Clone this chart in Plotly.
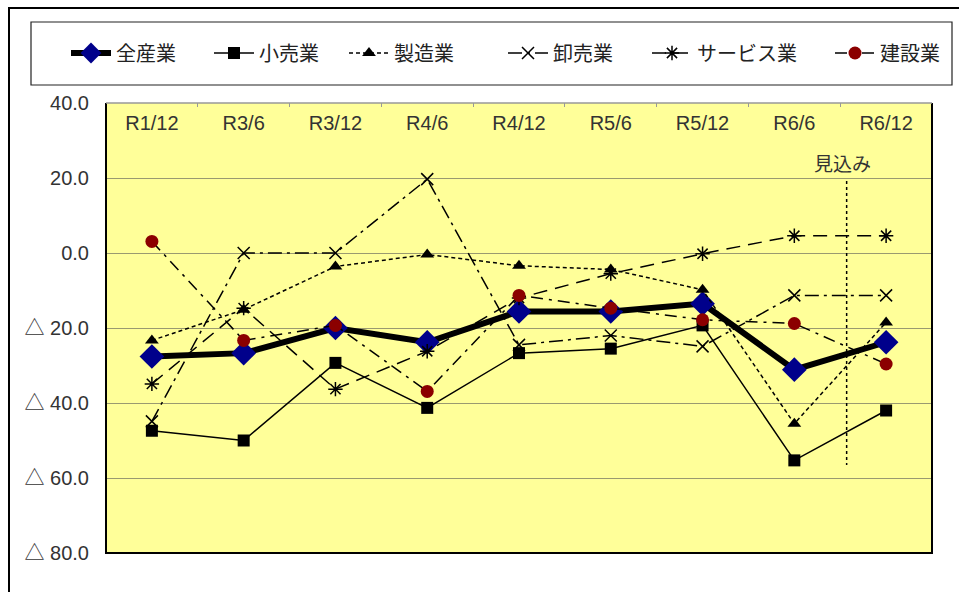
import plotly.graph_objects as go

categories = ["R1/12", "R3/6", "R3/12", "R4/6", "R4/12", "R5/6", "R5/12", "R6/6", "R6/12"]
zensangyo = [-27.6, -26.7, -20.0, -23.8, -15.6, -15.6, -13.5, -31.1, -23.8]
kouri = [-47.4, -50.0, -29.3, -41.3, -26.7, -25.5, -19.3, -55.3, -42.0]
seizou = [-23.3, -15.1, -3.6, -0.4, -3.4, -4.4, -9.8, -45.5, -18.5]
oroshi = [-44.9, 0.0, 0.0, 19.7, -24.5, -22.0, -24.9, -11.3, -11.3]
service = [-34.9, -14.7, -36.3, -26.2, -12.0, -5.5, -0.2, 4.6, 4.6]
kensetsu = [3.1, -23.3, -19.3, -36.9, -11.3, -14.7, -17.8, -18.8, -29.6]

ytickvals = [40, 20, 0, -20, -40, -60, -80]
yticktext = ["40.0", "20.0", "0.0", "△ 20.0", "△ 40.0", "△ 60.0", "△ 80.0"]

FONT = "Liberation Sans, Noto Sans CJK JP, sans-serif"
JFONT = "Noto Sans CJK JP, sans-serif"

W, H = 959, 592
L, R, T, B = 106, 932, 103, 553
pw, ph = R - L, B - T

def px(x):
    return (x - L) / pw

def py(y):
    return (B - y) / ph

# legend text start positions (page px)
leg_text_x = [117, 260, 395, 554, 698, 881]
leg_names = ["legend", "legend2", "legend3", "legend4", "legend5", "legend6"]

fig = go.Figure()
fig.add_trace(go.Scatter(x=categories, y=zensangyo, name="全産業", mode="lines+markers",
                         line=dict(color="black", width=6),
                         marker=dict(symbol="diamond", size=19, color="#00008B")))
fig.add_trace(go.Scatter(x=categories, y=kouri, name="小売業", mode="lines+markers",
                         line=dict(color="black", width=1.5),
                         marker=dict(symbol="square", size=12, color="black")))
fig.add_trace(go.Scatter(x=categories, y=seizou, name="製造業", mode="lines+markers",
                         line=dict(color="black", width=1.5, dash="4px,3px"),
                         marker=dict(symbol="triangle-up", size=12, color="black")))
fig.add_trace(go.Scatter(x=categories, y=oroshi, name="卸売業", mode="lines+markers",
                         line=dict(color="black", width=1.5, dash="14px,5px,3px,5px"),
                         marker=dict(symbol="x-thin-open", size=12, color="black",
                                     line=dict(color="black", width=1.5))))
fig.add_trace(go.Scatter(x=categories, y=service, name="サービス業", mode="lines+markers",
                         line=dict(color="black", width=1.5, dash="14px,8px"),
                         marker=dict(symbol="asterisk-open", size=12, color="black",
                                     line=dict(color="black", width=1.5))))
fig.add_trace(go.Scatter(x=categories, y=kensetsu, name="建設業", mode="lines+markers",
                         line=dict(color="black", width=1.5, dash="12px,6px,3px,6px"),
                         marker=dict(symbol="circle", size=13, color="#8B0000")))

for tr, lg in zip(fig.data, leg_names):
    tr.legend = lg

shapes = [
    dict(type="rect", xref="paper", yref="paper", x0=px(9), x1=px(965), y0=py(600), y1=py(8),
         line=dict(color="black", width=2), fillcolor="rgba(0,0,0,0)", layer="below"),
    dict(type="rect", xref="paper", yref="paper", x0=px(31), x1=px(952), y0=py(85), y1=py(22),
         line=dict(color="#222", width=1.2), fillcolor="white", layer="below"),
    dict(type="path", xref="paper", yref="paper",
         path="M 0 1 L 0 0 L 1 0 L 1 1", line=dict(color="black", width=2)),
    dict(type="line", xref="paper", yref="paper", x0=0, x1=1, y0=1, y1=1,
         line=dict(color="#999999", width=1.5)),
    dict(type="line", xref="x", yref="y", x0=7.57, x1=7.57, y0=19.2, y1=-56.5,
         line=dict(color="black", width=1.5, dash="dot")),
]

layout = dict(
    width=W, height=H,
    margin=dict(l=L, r=W - R, t=T, b=H - B),
    paper_bgcolor="white",
    plot_bgcolor="#FFFF99",
    font=dict(family=FONT, size=18, color="#333333"),
    showlegend=True,
    shapes=shapes,
    annotations=[dict(xref="x", yref="y", x=7.53, y=24.2, text="見込み", showarrow=False,
                      font=dict(family=JFONT, size=19, color="#333"))],
    xaxis=dict(side="top", ticklabelposition="outside", ticklabelstandoff=-32,
               tickson="boundaries", ticks="inside",
               ticklen=4, tickcolor="#999", showgrid=False, showline=False,
               range=[-0.5, 8.5], tickfont=dict(size=20, color="#333")),
    yaxis=dict(range=[-80, 40], tickvals=ytickvals, ticktext=yticktext, showgrid=True,
               gridcolor="#9a9a70", gridwidth=1.2, zeroline=False, showline=False,
               ticks="", tickfont=dict(size=20, color="#333"), ticklabelstandoff=16),
)
for lg, tx in zip(leg_names, leg_text_x):
    layout[lg] = dict(orientation="h", x=px(tx - 51), y=py(53), xanchor="left", yanchor="middle",
                      bgcolor="rgba(0,0,0,0)", font=dict(family=JFONT, size=20, color="#222"),
                      itemwidth=40, borderwidth=0)
fig.update_layout(**layout)

fig.write_html("out.html")
